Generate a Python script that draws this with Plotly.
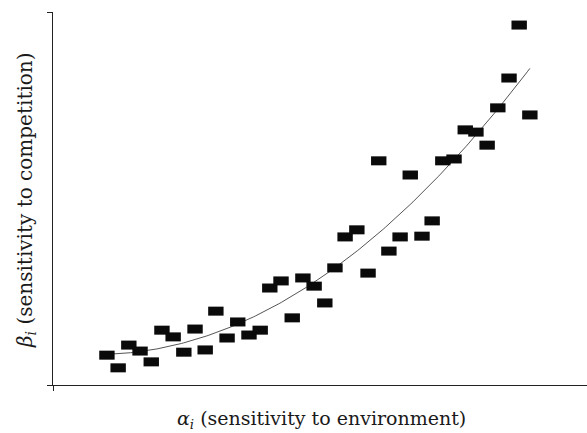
import numpy as np
import plotly.graph_objects as go

# sensitivity to environment (alpha_i) and to competition (beta_i), arbitrary units 0-100
alpha = [10.1, 12.2, 14.2, 16.3, 18.4, 20.4, 22.5, 24.5, 26.6, 28.5,
         30.5, 32.6, 34.6, 36.7, 38.8, 40.6, 42.7, 44.8, 46.8, 48.9,
         50.9, 52.8, 54.7, 56.9, 59.0, 61.0, 62.9, 65.0, 66.9, 69.1,
         71.0, 73.0, 75.1, 77.2, 79.2, 81.3, 83.3, 85.4, 87.3, 89.3]
beta = [8.0, 4.6, 10.7, 9.1, 6.2, 14.7, 12.9, 8.8, 15.0, 9.4,
        19.8, 12.6, 16.9, 13.4, 14.7, 26.0, 27.9, 18.0, 28.7, 26.5,
        22.0, 31.4, 39.7, 41.6, 30.0, 60.1, 35.9, 39.7, 56.3, 39.9,
        44.0, 60.1, 60.6, 68.4, 67.8, 64.3, 74.3, 82.3, 96.5, 72.4]

# quadratic trend fitted to the data
coef = np.polyfit(alpha, beta, 2)
xf = np.linspace(min(alpha), max(alpha), 200)
yf = np.polyval(coef, xf)

FONT = "DejaVu Serif"

fig = go.Figure()
fig.add_trace(go.Scatter(x=xf, y=yf, mode="lines",
                         line=dict(color="#555555", width=1), hoverinfo="skip"))
fig.add_trace(go.Scatter(x=alpha, y=beta, mode="markers",
                         marker=dict(symbol="line-ew", size=11,
                                     line=dict(color="#0a0a0a", width=9))))

fig.update_layout(
    width=587, height=433,
    margin=dict(l=53, r=0, t=12, b=48),
    paper_bgcolor="white", plot_bgcolor="white",
    showlegend=False,
    font=dict(family=FONT, color="#1a1a1a"),
    xaxis=dict(range=[0, 100], showgrid=False, zeroline=False,
               showline=True, linecolor="#222222", linewidth=1,
               tickvals=[0], ticktext=[""], ticks="outside", ticklen=5,
               tickcolor="#222222"),
    yaxis=dict(range=[0, 100], showgrid=False, zeroline=False,
               showline=True, linecolor="#222222", linewidth=1,
               tickvals=[0, 100], ticktext=["", ""], ticks="outside", ticklen=5,
               tickcolor="#222222"),
    annotations=[
        dict(text="<i>α<sub>i</sub></i> (sensitivity to environment)",
             xref="paper", yref="paper", x=0.503, y=0, yshift=-20,
             xanchor="center", yanchor="top", showarrow=False,
             font=dict(family=FONT, size=19, color="#1a1a1a")),
        dict(text="<i>β<sub>i</sub></i> (sensitivity to competition)",
             xref="paper", yref="paper", x=0, y=0.496, xshift=-27,
             xanchor="center", yanchor="middle", textangle=-90, showarrow=False,
             font=dict(family=FONT, size=20, color="#1a1a1a")),
    ],
)

fig.write_html("out.html")
